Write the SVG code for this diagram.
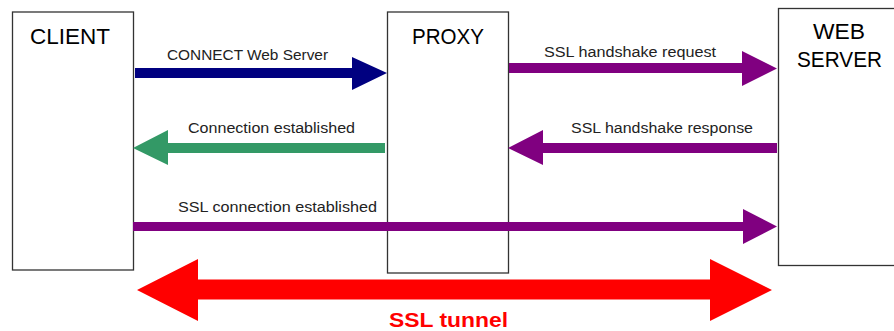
<svg xmlns="http://www.w3.org/2000/svg" width="894" height="331" viewBox="0 0 894 331">
<style>
.box{fill:#fff;stroke:#333;stroke-width:1.3}
.title{font-family:"Liberation Sans",Arial,sans-serif;font-size:22px;fill:#000}
.lbl{font-family:"Liberation Sans",Arial,sans-serif;font-size:14px;fill:#222}
.tun{font-family:"Liberation Sans",Arial,sans-serif;font-size:21px;font-weight:bold;fill:#ff0000}
</style>
<rect width="894" height="331" fill="#fff"/>
<g id="client">
<rect class="box" x="12.5" y="12" width="121" height="258"/>
<text class="title" x="30" y="44" textLength="80" lengthAdjust="spacingAndGlyphs">CLIENT</text>
</g>
<g id="proxy">
<rect class="box" x="387.5" y="12" width="121" height="261"/>
<text class="title" x="412" y="44" textLength="72" lengthAdjust="spacingAndGlyphs">PROXY</text>
</g>
<g id="webserver">
<rect class="box" x="778.5" y="8.5" width="130" height="257"/>
<text class="title" x="813" y="39" textLength="52" lengthAdjust="spacingAndGlyphs">WEB</text>
<text class="title" x="797" y="67" textLength="85" lengthAdjust="spacingAndGlyphs">SERVER</text>
</g>
<g id="connectors">
<polygon fill="#000080" points="135,68 352,68 352,57 387,73 352,90 352,78 135,78"/>
<text class="lbl" x="167" y="60" textLength="161" lengthAdjust="spacingAndGlyphs">CONNECT Web Server</text>
<polygon fill="#800080" points="509,63 742,63 742,51 777,68.5 742,86 742,73 509,73"/>
<text class="lbl" x="544" y="57" textLength="172" lengthAdjust="spacingAndGlyphs">SSL handshake request</text>
<polygon fill="#339966" points="385,143 168,143 168,130 133,148 168,165 168,153 385,153"/>
<text class="lbl" x="188" y="133" textLength="167" lengthAdjust="spacingAndGlyphs">Connection established</text>
<polygon fill="#800080" points="777,143 543,143 543,130 508,148 543,165 543,153 777,153"/>
<text class="lbl" x="571" y="133" textLength="182" lengthAdjust="spacingAndGlyphs">SSL handshake response</text>
<polygon fill="#800080" points="133,222 743,222 743,209 777,226.5 743,244 743,231 133,231"/>
<text class="lbl" x="178" y="212" textLength="199" lengthAdjust="spacingAndGlyphs">SSL connection established</text>
<polygon fill="#ff0000" points="137,290 198,259 198,279.5 710,279.5 710,259 772,290 710,321 710,299.5 198,299.5 198,321"/>
<text class="tun" x="389" y="327" textLength="119" lengthAdjust="spacingAndGlyphs">SSL tunnel</text>
</g>
</svg>
